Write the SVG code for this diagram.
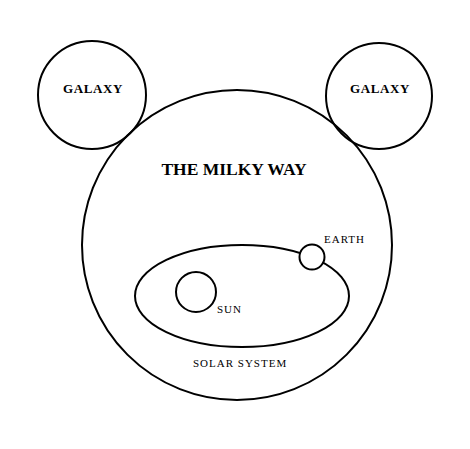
<svg xmlns="http://www.w3.org/2000/svg" width="470" height="449" viewBox="0 0 470 449">
<style>
.ring{fill:none;stroke:#000;stroke-width:2}
.solid{fill:#fff;stroke:#000;stroke-width:2}
.big{font-family:"Liberation Serif","Times New Roman",serif;font-weight:bold;fill:#000;text-anchor:middle}
.small{font-family:"Liberation Serif","Times New Roman",serif;fill:#000;font-size:11px;letter-spacing:1px}
</style>
<rect width="470" height="449" fill="#fff"/>
<g id="milky-way">
<circle class="ring" cx="237" cy="245" r="155"/>
<text class="big" x="234" y="175" font-size="17.5">THE MILKY WAY</text>
</g>
<g id="galaxy-left">
<circle class="ring" cx="92" cy="95" r="54"/>
<text class="big" x="93" y="93" font-size="13" letter-spacing="0.6">GALAXY</text>
</g>
<g id="galaxy-right">
<circle class="ring" cx="379" cy="96" r="53"/>
<text class="big" x="380" y="93" font-size="13" letter-spacing="0.6">GALAXY</text>
</g>
<g id="solar-system">
<ellipse class="ring" cx="242" cy="296" rx="107" ry="51"/>
<text class="small" x="193" y="367" letter-spacing="0.65">SOLAR SYSTEM</text>
</g>
<g id="sun">
<circle class="ring" cx="196" cy="292" r="20"/>
<text class="small" x="217" y="313">SUN</text>
</g>
<g id="earth">
<circle class="solid" cx="312" cy="257" r="12.5"/>
<text class="small" x="324" y="243" font-size="11.5" letter-spacing="0.6">EARTH</text>
</g>
<g id="connectors"/>
</svg>
